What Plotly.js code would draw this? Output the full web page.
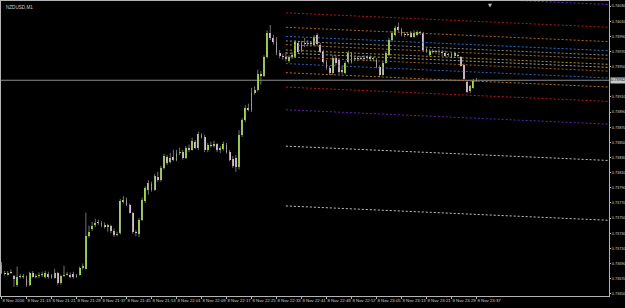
<!DOCTYPE html>
<html><head><meta charset="utf-8">
<script src="https://cdn.plot.ly/plotly-3.0.1.min.js"></script>
<style>html,body{margin:0;padding:0;background:#000;}#chart{width:625px;height:308px;}</style>
</head><body><div id="chart"></div>
<script>
const symbolTitle = 'NZDUSD,M1';

const open = [0.73688,0.73678,0.73675,0.73679,0.73674,0.73662,0.73674,0.73672,0.73672,0.73662,
0.73678,0.73672,0.73674,0.73675,0.73672,0.73676,0.73671,0.73671,0.73678,0.73664,
0.73674,0.73675,0.73675,0.73676,0.73672,0.73675,0.73684,0.73683,0.73726,0.73736,
0.73741,0.73745,0.73744,0.73741,0.73738,0.73740,0.73733,0.73728,0.73730,0.73771,
0.73774,0.73767,0.73757,0.73732,0.73729,0.73748,0.73773,0.73787,0.73795,0.73787,
0.73804,0.73800,0.73816,0.73831,0.73824,0.73831,0.73827,0.73836,0.73837,0.73829,
0.73843,0.73840,0.73851,0.73843,0.73860,0.73857,0.73840,0.73847,0.73845,0.73848,
0.73840,0.73841,0.73847,0.73837,0.73828,0.73829,0.73818,0.73860,0.73880,0.73895,
0.73893,0.73915,0.73919,0.73940,0.73938,0.73963,0.73994,0.73988,0.73983,0.73968,
0.73964,0.73963,0.73957,0.73963,0.73963,0.73981,0.73972,0.73981,0.73980,0.73981,
0.73979,0.73992,0.73979,0.73969,0.73956,0.73948,0.73942,0.73961,0.73959,0.73946,
0.73942,0.73956,0.73968,0.73960,0.73961,0.73960,0.73961,0.73961,0.73963,0.73960,
0.73959,0.73950,0.73939,0.73955,0.73965,0.73985,0.73992,0.74002,0.73998,0.73993,
0.73992,0.73994,0.73989,0.73992,0.73996,0.73994,0.73973,0.73965,0.73971,0.73969,
0.73971,0.73969,0.73968,0.73965,0.73967,0.73964,0.73965,0.73963,0.73952,0.73930,
0.73918,0.73922,0.73931];

const high = [0.73692,0.73680,0.73680,0.73682,0.73675,0.73686,0.73676,0.73676,0.73674,0.73679,
0.73680,0.73676,0.73678,0.73679,0.73680,0.73679,0.73676,0.73683,0.73679,0.73675,
0.73687,0.73679,0.73678,0.73679,0.73676,0.73686,0.73690,0.73757,0.73740,0.73745,
0.73749,0.73748,0.73746,0.73744,0.73742,0.73741,0.73736,0.73732,0.73775,0.73779,
0.73777,0.73769,0.73758,0.73734,0.73750,0.73777,0.73792,0.73800,0.73798,0.73808,
0.73811,0.73819,0.73835,0.73833,0.73836,0.73840,0.73840,0.73843,0.73840,0.73845,
0.73847,0.73856,0.73853,0.73864,0.73862,0.73860,0.73849,0.73851,0.73852,0.73849,
0.73845,0.73851,0.73849,0.73840,0.73832,0.73833,0.73866,0.73882,0.73899,0.73901,
0.73922,0.73924,0.73946,0.73944,0.73965,0.73998,0.74005,0.73992,0.73989,0.73972,
0.73967,0.73969,0.73965,0.73969,0.73985,0.73984,0.73984,0.73988,0.73985,0.73984,
0.73992,0.73994,0.73981,0.73972,0.73959,0.73951,0.73965,0.73965,0.73961,0.73951,
0.73957,0.73971,0.73969,0.73964,0.73964,0.73964,0.73965,0.73965,0.73965,0.73963,
0.73961,0.73952,0.73957,0.73971,0.73988,0.73997,0.74004,0.74008,0.74001,0.73996,
0.73996,0.73997,0.73998,0.73998,0.73997,0.73996,0.73975,0.73973,0.73973,0.73972,
0.73973,0.73972,0.73971,0.73968,0.73969,0.73969,0.73967,0.73964,0.73954,0.73932,
0.73926,0.73934,0.73935];

const low = [0.73676,0.73674,0.73674,0.73676,0.73659,0.73659,0.73670,0.73670,0.73659,0.73660,
0.73671,0.73670,0.73671,0.73672,0.73670,0.73670,0.73670,0.73670,0.73662,0.73662,
0.73672,0.73674,0.73671,0.73670,0.73671,0.73674,0.73682,0.73682,0.73724,0.73733,
0.73738,0.73741,0.73738,0.73736,0.73732,0.73730,0.73725,0.73726,0.73728,0.73769,
0.73766,0.73756,0.73729,0.73726,0.73725,0.73746,0.73770,0.73781,0.73785,0.73786,
0.73798,0.73798,0.73814,0.73820,0.73822,0.73825,0.73825,0.73833,0.73827,0.73828,
0.73837,0.73839,0.73841,0.73840,0.73855,0.73837,0.73837,0.73843,0.73843,0.73837,
0.73836,0.73839,0.73835,0.73825,0.73816,0.73811,0.73814,0.73857,0.73877,0.73891,
0.73890,0.73913,0.73917,0.73926,0.73936,0.73961,0.73985,0.73979,0.73965,0.73961,
0.73959,0.73957,0.73955,0.73960,0.73961,0.73967,0.73969,0.73976,0.73977,0.73977,
0.73977,0.73977,0.73968,0.73954,0.73946,0.73939,0.73939,0.73952,0.73940,0.73940,
0.73940,0.73954,0.73954,0.73957,0.73957,0.73959,0.73957,0.73959,0.73957,0.73957,
0.73948,0.73936,0.73938,0.73954,0.73964,0.73983,0.73990,0.73996,0.73990,0.73989,
0.73990,0.73988,0.73988,0.73990,0.73992,0.73969,0.73968,0.73964,0.73967,0.73967,
0.73965,0.73964,0.73963,0.73963,0.73961,0.73963,0.73963,0.73950,0.73932,0.73915,
0.73915,0.73921,0.73930];

const close = [0.73678,0.73676,0.73678,0.73678,0.73670,0.73672,0.73672,0.73674,0.73662,0.73678,
0.73672,0.73674,0.73675,0.73676,0.73678,0.73672,0.73674,0.73678,0.73664,0.73674,
0.73675,0.73676,0.73672,0.73672,0.73675,0.73684,0.73686,0.73726,0.73732,0.73740,
0.73744,0.73744,0.73741,0.73738,0.73741,0.73733,0.73728,0.73729,0.73773,0.73774,
0.73767,0.73757,0.73732,0.73730,0.73748,0.73774,0.73790,0.73796,0.73787,0.73806,
0.73800,0.73816,0.73832,0.73823,0.73829,0.73827,0.73836,0.73837,0.73829,0.73843,
0.73840,0.73852,0.73843,0.73861,0.73857,0.73840,0.73847,0.73845,0.73848,0.73840,
0.73843,0.73848,0.73837,0.73827,0.73819,0.73818,0.73860,0.73880,0.73895,0.73893,
0.73915,0.73919,0.73940,0.73938,0.73963,0.73994,0.73988,0.73983,0.73968,0.73964,
0.73963,0.73960,0.73963,0.73965,0.73983,0.73969,0.73981,0.73980,0.73981,0.73980,
0.73989,0.73980,0.73969,0.73956,0.73948,0.73942,0.73961,0.73955,0.73943,0.73943,
0.73955,0.73968,0.73956,0.73961,0.73960,0.73961,0.73960,0.73963,0.73960,0.73961,
0.73950,0.73939,0.73955,0.73968,0.73985,0.73994,0.74001,0.73998,0.73992,0.73992,
0.73993,0.73989,0.73994,0.73996,0.73994,0.73972,0.73971,0.73971,0.73969,0.73971,
0.73969,0.73968,0.73964,0.73967,0.73963,0.73968,0.73964,0.73951,0.73934,0.73917,
0.73924,0.73931,0.73932];

const timeTickBars = [0,8,16,24,32,40,48,56,64,72,80,88,96,104,112,120,128,136,144,152];
const timeTickLabels = ['8 Nov 2016','8 Nov 21:13','8 Nov 21:21','8 Nov 21:29','8 Nov 21:37',
'8 Nov 21:45','8 Nov 21:53','8 Nov 22:01','8 Nov 22:09','8 Nov 22:17','8 Nov 22:25',
'8 Nov 22:33','8 Nov 22:41','8 Nov 22:49','8 Nov 22:57','8 Nov 23:05','8 Nov 23:13',
'8 Nov 23:21','8 Nov 23:29','8 Nov 23:37'];

const priceTicks = [0.74030,0.74010,0.73990,0.73970,0.73950,0.73930,0.73910,0.73890,0.73870,0.73850,
0.73830,0.73810,0.73790,0.73770,0.73750,0.73730,0.73710,0.73690,0.73670,0.73650];

const bidPrice = 0.73932;

// channel levels: price at the anchor bar and at the right edge of the chart
const channelBars = [91, 194.4];
const channelStartPrice = [0.74051,0.74021,0.74002,0.73990,0.73984,0.73979,0.73972,0.73968,0.73963,0.73954,0.73942,0.73923,0.73893,0.73845,0.73766];
const channelEndPrice   = [0.74032,0.74002,0.73983,0.73971,0.73965,0.73960,0.73953,0.73949,0.73944,0.73935,0.73923,0.73904,0.73874,0.73826,0.73747];
const channelColors = ['#6e24c4','#b81616','#b0661e','#2a70cc','#8a8a8a','#a0742a','#b8941e','#a4a4a4','#a0601a','#2a64bc','#bc7020','#bc1818','#6420b0','#c4c4c4','#c4c4c4'];

const GREEN = '#a2e83a', PINK = '#f0c4e6', DOJI = '#e6e6e6', WICK = '#8e8e8e';

const idx = open.map((_, i) => i);
const wx = [], wy = [];
idx.forEach(i => { wx.push(i, i, null); wy.push(low[i], high[i], null); });

// hide the price scale label that sits under the bid label
const shownTicks = priceTicks.filter(v => Math.abs(v - bidPrice) > 0.00005);

const traces = [];
channelStartPrice.forEach((p, k) => {
  traces.push({type:'scatter', mode:'lines', x:channelBars, y:[p, channelEndPrice[k]],
    line:{color:channelColors[k], width:1, dash:'2px,2px'}, hoverinfo:'skip'});
});
traces.push({type:'scatter', mode:'lines', x:wx, y:wy, line:{color:WICK, width:0.8}, hoverinfo:'skip', connectgaps:false});
traces.push({type:'bar', x:idx,
  base: idx.map(i => Math.min(open[i], close[i])),
  y: idx.map(i => Math.max(Math.abs(close[i]-open[i]), 0.000007)),
  width:0.62,
  marker:{color: idx.map(i => close[i] > open[i] ? GREEN : (close[i] < open[i] ? PINK : DOJI)), line:{width:0}},
  hoverinfo:'skip'});

const FONT = 'Liberation Sans, Arial, sans-serif';
const layout = {
  width:625, height:308,
  margin:{l:1, r:16, t:1, b:12, pad:0},
  paper_bgcolor:'#000', plot_bgcolor:'#000',
  showlegend:false, barmode:'overlay', bargap:0,
  xaxis:{range:[-0.16,194.4], tickmode:'array', tickvals:timeTickBars, ticktext:timeTickLabels,
    tickangle:0, automargin:false,
    showgrid:false, zeroline:false, showline:true, mirror:true, linecolor:'#b4b4b4', linewidth:1,
    ticks:'outside', ticklen:2, tickcolor:'#b4b4b4', tickfont:{family:FONT, size:4.3, color:'#d0d0d0'},
    ticklabelposition:'outside right'},
  yaxis:{side:'right', range:[0.73647,0.740367], tickmode:'array', tickvals:shownTicks, tickformat:'.5f',
    automargin:false,
    showgrid:false, zeroline:false, showline:true, mirror:true, linecolor:'#b4b4b4', linewidth:1,
    ticks:'outside', ticklen:1, tickcolor:'#b4b4b4', tickfont:{family:FONT, size:3.8, color:'#d0d0d0'}},
  shapes:[{type:'line', xref:'paper', x0:0, x1:1, yref:'y', y0:bidPrice, y1:bidPrice, line:{color:'#8c8c8c', width:1}, layer:'below'}],
  annotations:[
    {xref:'paper', yref:'paper', x:0, y:1, xanchor:'left', yanchor:'top', xshift:3, yshift:-2,
     text:symbolTitle, showarrow:false, font:{family:FONT, size:4.6, color:'#d0d0d0'}},
    {xref:'paper', yref:'y', x:1, y:bidPrice, xanchor:'left', yanchor:'middle', xshift:1,
     text:bidPrice.toFixed(5), showarrow:false, bgcolor:'#c8c8c8', borderpad:0.3,
     font:{family:FONT, size:3.8, color:'#000'}},
    {xref:'paper', yref:'paper', x:(490-1)/608, y:1, xanchor:'center', yanchor:'top', yshift:1,
     text:'▼', showarrow:false, font:{family:'DejaVu Sans', size:5, color:'#c0c0c0'}}
  ]
};
Plotly.newPlot('chart', traces, layout, {staticPlot:true, displayModeBar:false});
</script></body></html>
